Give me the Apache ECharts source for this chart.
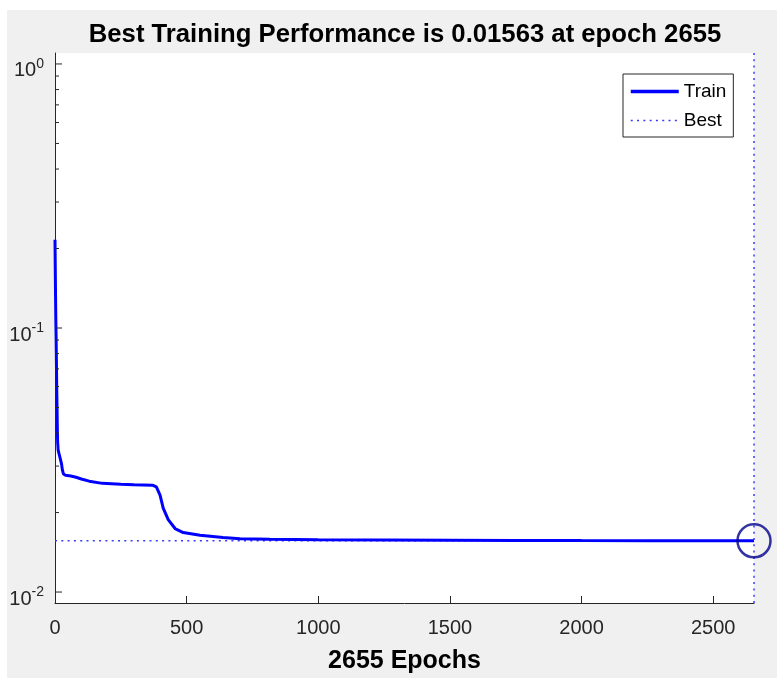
<!DOCTYPE html>
<html>
<head>
<meta charset="utf-8">
<title>Best Training Performance</title>
<script src="https://cdn.jsdelivr.net/npm/echarts@6/dist/echarts.min.js"></script>
<style>
  html, body { margin: 0; padding: 0; background: #ffffff; }
  #panel { position: absolute; left: 7px; top: 10px; width: 770px; height: 668px; background: #f0f0f0; }
  #chart { position: absolute; left: 0; top: 0; width: 777px; height: 679px; }
</style>
</head>
<body>
<div id="panel"></div>
<div id="chart"></div>
<script>
// Training record: mean squared error per epoch
const epochs = [0, 1, 2, 3, 4, 5, 6, 7, 8, 9, 10, 12, 15, 20, 25, 28, 32, 40, 60, 80, 100, 130, 180, 250, 300, 370, 385, 399, 411, 430, 456, 487, 551, 638, 703, 817, 1000, 1250, 1500, 1750, 2000, 2250, 2500, 2655];
const trainPerf = [0.216, 0.17, 0.135, 0.11, 0.095, 0.08, 0.066, 0.056, 0.048, 0.041, 0.037, 0.0345, 0.0335, 0.032, 0.0305, 0.029, 0.028, 0.0277, 0.0275, 0.0272, 0.0268, 0.0263, 0.0258, 0.0256, 0.0255, 0.0254, 0.0250, 0.0233, 0.0208, 0.0188, 0.0174, 0.0168, 0.0164, 0.0161, 0.0159, 0.01585, 0.01578, 0.01575, 0.01572, 0.01569, 0.01566, 0.01565, 0.01564, 0.01563];

const bestEpoch = 2655;
const bestPerf = 0.01563;

// Axis limits and ticks
const xLimits = [0, 2655];
const yLimits = [0.009089, 1.1003];
const xTickStep = 500;
const yMajorTicks = [0.01, 0.1, 1];
const yMinorTicks = [0.02, 0.03, 0.04, 0.05, 0.06, 0.07, 0.08, 0.09, 0.2, 0.3, 0.4, 0.5, 0.6, 0.7, 0.8, 0.9];

const titleText = 'Best Training Performance is ' + bestPerf + ' at epoch ' + bestEpoch;
const xName = bestEpoch + ' Epochs';

const FONT = 'Liberation Sans, Arial, Helvetica, sans-serif';
const AXIS_COLOR = '#262626';
const TRAIN_COLOR = '#0000ff';
const BEST_COLOR = '#3a3aff';

const chart = echarts.init(document.getElementById('chart'), null, { renderer: 'canvas' });

// Log-spaced ticks along the left axis, pointing into the plot
function tickSeries(values, len) {
  return {
    type: 'custom',
    silent: true,
    clip: false,
    z: 5,
    data: values.map(v => [xLimits[0], v]),
    renderItem: function (params, api) {
      const p = api.coord([api.value(0), api.value(1)]);
      return {
        type: 'line',
        shape: { x1: p[0], y1: p[1], x2: p[0] + len, y2: p[1] },
        style: { stroke: AXIS_COLOR, lineWidth: 1 }
      };
    }
  };
}

const option = {
  animation: false,
  title: {
    text: titleText,
    left: 405,
    top: 22,
    padding: 0,
    textAlign: 'center',
    textStyle: { fontFamily: FONT, fontSize: 25.7, fontWeight: 'bold', color: '#000000' }
  },
  grid: {
    left: 55, right: 23, top: 53, bottom: 74,
    show: true, backgroundColor: '#ffffff', borderWidth: 0
  },
  legend: {
    orient: 'vertical',
    left: 623, top: 74,
    padding: [8, 7, 7, 6],
    itemGap: 10,
    itemWidth: 48,
    itemHeight: 14,
    backgroundColor: '#ffffff',
    borderColor: AXIS_COLOR,
    borderWidth: 1,
    borderRadius: 0,
    data: [
      { name: 'Train', lineStyle: { width: 3.5, color: TRAIN_COLOR } },
      { name: 'Best', lineStyle: { width: 1.5, color: BEST_COLOR, type: [2, 4.3] } }
    ],
    itemStyle: { opacity: 0 },
    textStyle: { fontFamily: FONT, fontSize: 19, color: '#000000' }
  },
  xAxis: {
    type: 'value',
    min: xLimits[0], max: xLimits[1], interval: xTickStep,
    name: xName,
    nameLocation: 'middle',
    nameGap: 46,
    nameTextStyle: { fontFamily: FONT, fontSize: 25, fontWeight: 'bold', color: '#000000' },
    axisLine: { show: true, lineStyle: { color: AXIS_COLOR, width: 1 } },
    axisTick: { show: true, inside: true, length: 7, lineStyle: { color: AXIS_COLOR } },
    splitLine: { show: false },
    axisLabel: {
      margin: 15,
      fontFamily: FONT, fontSize: 20, color: AXIS_COLOR,
      showMaxLabel: false,
      formatter: v => (v % xTickStep === 0 ? String(v) : '')
    }
  },
  yAxis: {
    type: 'log',
    logBase: 10,
    min: yLimits[0], max: yLimits[1],
    axisLine: { show: true, lineStyle: { color: AXIS_COLOR, width: 1 } },
    axisTick: { show: false },
    splitLine: { show: false },
    axisLabel: {
      margin: 11,
      formatter: function (v) {
        const e = Math.log10(v);
        const r = Math.round(e);
        if (Math.abs(e - r) > 1e-6) return '';
        return '{b|10}{s|' + r + '}';
      },
      rich: {
        b: { fontFamily: FONT, fontSize: 20, lineHeight: 20, color: AXIS_COLOR, padding: [14, 0, 0, 0] },
        s: { fontFamily: FONT, fontSize: 14, lineHeight: 14, color: AXIS_COLOR, padding: [10, 0, 10, 0] }
      }
    }
  },
  series: [
    {
      name: 'Best',
      type: 'line',
      symbol: 'none',
      silent: true,
      z: 2,
      data: [[xLimits[0], bestPerf], [bestEpoch, bestPerf]],
      itemStyle: { color: BEST_COLOR },
      lineStyle: { color: BEST_COLOR, width: 1.5, type: [2, 4.3] }
    },
    {
      name: 'Best',
      type: 'line',
      symbol: 'none',
      silent: true,
      z: 4,
      data: [[bestEpoch, yLimits[0]], [bestEpoch, yLimits[1]]],
      itemStyle: { color: BEST_COLOR },
      lineStyle: { color: BEST_COLOR, width: 1.5, type: [2, 4.3] }
    },
    {
      name: 'Train',
      type: 'line',
      symbol: 'none',
      silent: true,
      z: 3,
      data: epochs.map((e, i) => [e, trainPerf[i]]),
      itemStyle: { color: TRAIN_COLOR },
      lineStyle: { color: TRAIN_COLOR, width: 3 }
    },
    {
      name: 'BestPoint',
      type: 'scatter',
      silent: true,
      clip: false,
      z: 6,
      symbol: 'circle',
      symbolSize: 33,
      data: [[bestEpoch, bestPerf]],
      itemStyle: { color: 'rgba(0,0,0,0)', borderColor: '#00008b', borderWidth: 2.5 }
    },
    tickSeries(yMajorTicks, 7),
    tickSeries(yMinorTicks, 4)
  ]
};

chart.setOption(option);
</script>
</body>
</html>
